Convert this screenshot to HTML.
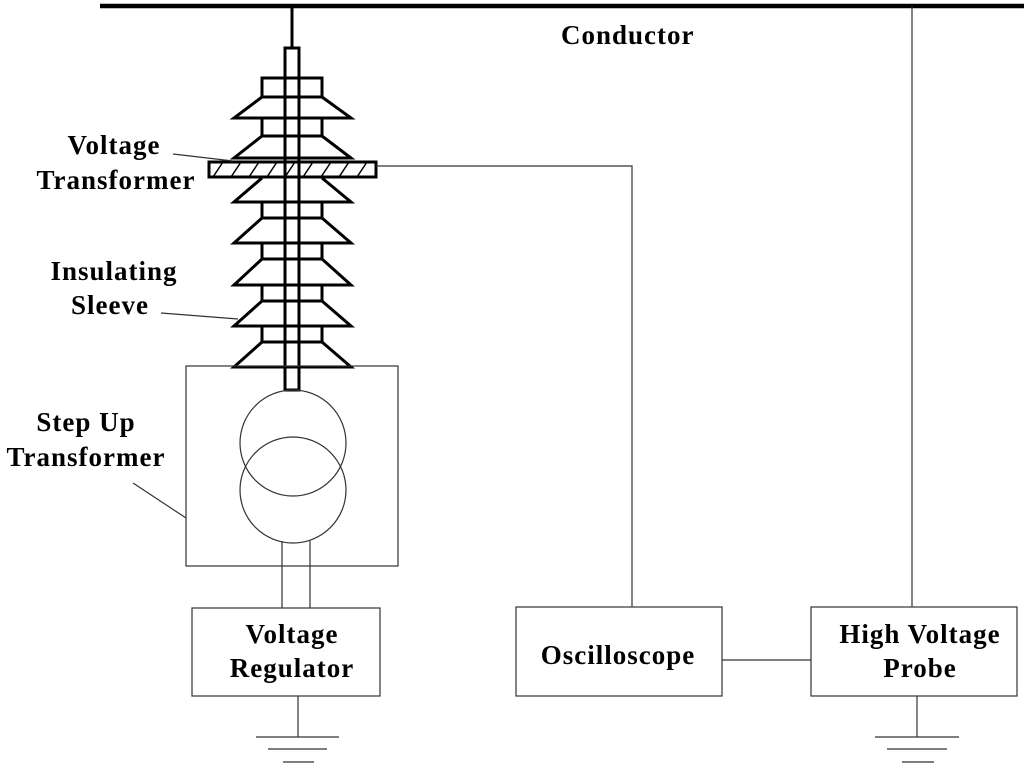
<!DOCTYPE html>
<html><head><meta charset="utf-8"><style>
html,body{margin:0;padding:0;background:#fff;}
svg{display:block;}
text{font-family:"Liberation Serif",serif;font-weight:bold;font-size:27px;letter-spacing:1px;fill:#000;}
</style></head><body>
<svg width="1024" height="770" viewBox="0 0 1024 770" xmlns="http://www.w3.org/2000/svg">
<defs>
<pattern id="h" patternUnits="userSpaceOnUse" width="18" height="15" x="209" y="162">
<line x1="4" y1="15" x2="14" y2="0" stroke="#000" stroke-width="1.5"/>
</pattern>
</defs>
<line x1="100" y1="6" x2="1024" y2="6" stroke="#000" stroke-width="4.5"/>
<text x="561" y="44">Conductor</text>
<line x1="292" y1="6" x2="292" y2="47" stroke="#000" stroke-width="3"/>
<line x1="912" y1="6" x2="912" y2="607" stroke="#333" stroke-width="1.2"/>

<g fill="none" stroke="#000" stroke-width="3" stroke-linejoin="miter">
<rect x="262" y="78" width="60" height="19"/>
<rect x="262" y="118" width="60" height="18"/>
<rect x="262" y="202" width="60" height="16"/>
<rect x="262" y="243" width="60" height="16"/>
<rect x="262" y="285" width="60" height="16"/>
<rect x="262" y="326" width="60" height="16"/>
<path d="M262 97 L234 118 L351 118 L322 97"/>
<path d="M262 136 L234 158 L351 158 L322 136"/>
<path d="M262 178 L234 202 L351 202 L322 178"/>
<path d="M262 218 L234 243 L351 243 L322 218"/>
<path d="M262 259 L234 285 L351 285 L322 259"/>
<path d="M262 301 L234 326 L351 326 L322 301"/>
<path d="M262 342 L234 367 L351 367 L322 342"/>
<rect x="285" y="48" width="14" height="342"/>
</g>
<rect x="209" y="162" width="167" height="15" fill="url(#h)" stroke="#000" stroke-width="3"/>
<line x1="285" y1="162" x2="285" y2="177" stroke="#000" stroke-width="3"/>
<line x1="299" y1="162" x2="299" y2="177" stroke="#000" stroke-width="3"/>

<g fill="none" stroke="#333" stroke-width="1.2">
<polyline points="376,166 632,166 632,607"/>
<rect x="186" y="366" width="212" height="200"/>
<circle cx="293" cy="443" r="53"/>
<circle cx="293" cy="490" r="53"/>
<line x1="282" y1="541" x2="282" y2="608"/>
<line x1="310" y1="541" x2="310" y2="608"/>
<rect x="192" y="608" width="188" height="88"/>
<rect x="516" y="607" width="206" height="89"/>
<rect x="811" y="607" width="206" height="89"/>
<line x1="722" y1="660" x2="811" y2="660"/>
<line x1="298" y1="696" x2="298" y2="737"/>
<line x1="256" y1="737" x2="339" y2="737"/>
<line x1="268" y1="749" x2="327" y2="749"/>
<line x1="283" y1="762" x2="314" y2="762"/>
<line x1="917" y1="696" x2="917" y2="737"/>
<line x1="875" y1="737" x2="959" y2="737"/>
<line x1="887" y1="749" x2="947" y2="749"/>
<line x1="902" y1="762" x2="934" y2="762"/>
<line x1="173" y1="154" x2="233" y2="161"/>
<line x1="161" y1="313" x2="238" y2="319"/>
<line x1="133" y1="483" x2="186" y2="518"/>
</g>

<text x="114" y="154" text-anchor="middle">Voltage</text>
<text x="116" y="189" text-anchor="middle">Transformer</text>
<text x="114" y="280" text-anchor="middle">Insulating</text>
<text x="110" y="314" text-anchor="middle">Sleeve</text>
<text x="86" y="431" text-anchor="middle">Step Up</text>
<text x="86" y="466" text-anchor="middle">Transformer</text>
<text x="292" y="643" text-anchor="middle">Voltage</text>
<text x="292" y="677" text-anchor="middle">Regulator</text>
<text x="618" y="664" text-anchor="middle">Oscilloscope</text>
<text x="920" y="643" text-anchor="middle">High Voltage</text>
<text x="920" y="677" text-anchor="middle">Probe</text>
</svg>
</body></html>
